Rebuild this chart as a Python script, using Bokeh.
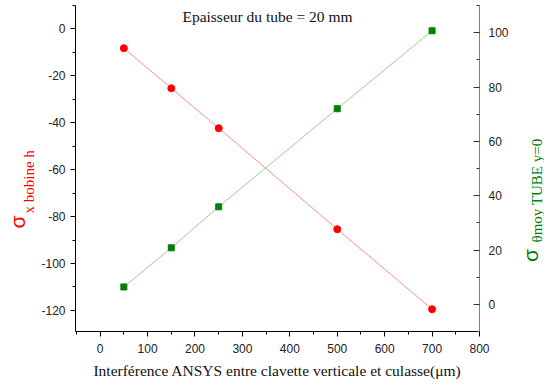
import math
from bokeh.plotting import figure
from bokeh.models import Range1d, LinearAxis, Label, FixedTicker, Title
from bokeh.embed import file_html
from bokeh.resources import INLINE

interference = [50, 150, 250, 500, 700]
sigma_x_bobine = [-8.2, -25.3, -42.3, -85.4, -119.5]
sigma_theta_tube = [6.4, 20.8, 35.9, 72.0, 100.7]

x_ticks = [0, 100, 200, 300, 400, 500, 600, 700, 800]
left_ticks = [0, -20, -40, -60, -80, -100, -120]
right_ticks = [0, 20, 40, 60, 80, 100]

title_text = "Epaisseur du tube = 20 mm"
x_label = "Interférence ANSYS entre clavette verticale et culasse(μm)"
left_symbol = "σ"
left_sub = "x bobine h"
right_symbol = "σ"
right_sub = "θmoy TUBE y=0"

RED = "#ff0000"
GREEN = "#008000"

p = figure(width=544, height=387, output_backend="svg", toolbar_location=None,
           x_range=Range1d(-52, 800), y_range=Range1d(-129, 10),
           min_border_left=75, min_border_right=65, min_border_top=5, min_border_bottom=56)
p.outline_line_color = None
p.grid.visible = False
p.background_fill_color = "white"
p.border_fill_color = "white"

p.extra_y_ranges = {"right": Range1d(-10, 110)}

# bottom axis
xa = p.xaxis[0]
xa.ticker = FixedTicker(ticks=x_ticks, minor_ticks=list(range(-50, 801, 50)))
xa.axis_label = x_label
xa.axis_label_text_font = "Liberation Serif"
xa.axis_label_text_font_size = "15.5px"
xa.axis_label_text_font_style = "normal"
xa.axis_label_text_color = "#111111"
xa.axis_label_standoff = 6
xa.major_label_text_font = "Liberation Sans"
xa.major_label_text_font_size = "12px"
xa.major_label_text_color = "#222222"
xa.major_label_standoff = 7
xa.major_tick_out = 5
xa.major_tick_in = 0
xa.minor_tick_out = 3
xa.minor_tick_in = 0
xa.axis_line_color = "black"

# left axis (plain hyphen minus as in the original)
ya = p.yaxis[0]
ya.ticker = FixedTicker(ticks=left_ticks, minor_ticks=list(range(-130, 11, 10)))
ya.major_label_overrides = {t: str(t) for t in left_ticks}
ya.major_label_text_font = "Liberation Sans"
ya.major_label_text_font_size = "12px"
ya.major_label_text_color = "#222222"
ya.major_label_standoff = 5
ya.major_tick_out = 5
ya.major_tick_in = 0
ya.minor_tick_out = 3
ya.minor_tick_in = 0
ya.axis_line_color = "black"

# right axis
ra = LinearAxis(y_range_name="right")
ra.ticker = FixedTicker(ticks=right_ticks, minor_ticks=list(range(-10, 111, 10)))
ra.major_label_text_font = "Liberation Sans"
ra.major_label_text_font_size = "12px"
ra.major_label_text_color = "#222222"
ra.major_label_standoff = 9
ra.major_tick_out = 0
ra.major_tick_in = 6
ra.minor_tick_out = 0
ra.minor_tick_in = 3
ra.axis_line_color = "#808080"
ra.major_tick_line_color = "#333333"
ra.minor_tick_line_color = "#333333"
p.add_layout(ra, "right")

# series
p.line(interference, sigma_x_bobine, line_color=RED, line_alpha=0.45, line_width=1)
p.scatter(interference, sigma_x_bobine, marker="circle", size=7, fill_color=RED, line_color=RED)
p.line(interference, sigma_theta_tube, line_color=GREEN, line_alpha=0.4, line_width=1, y_range_name="right")
p.scatter(interference, sigma_theta_tube, marker="square", size=6, fill_color=GREEN, line_color=GREEN,
          y_range_name="right")

# title inside the frame
p.add_layout(Label(x=192, y=315, x_units="screen", y_units="screen", text=title_text,
                   text_font="Liberation Serif", text_font_size="15.5px", text_color="#111111",
                   text_align="center", text_baseline="middle"))


def side_label(text, cx, y, font, size, color, align):
    # rotated label placed in a side panel (so it is not clipped to the frame),
    # horizontally positioned in canvas pixels
    try:
        return Label(x=cx, y=y, x_units="canvas", y_units="screen", text=text, angle=math.pi / 2,
                     text_font=font, text_font_size=size, text_color=color,
                     text_align=align, text_baseline="middle")
    except Exception:
        return Label(x=cx, y=y, x_units="screen", y_units="screen", text=text, angle=math.pi / 2,
                     text_font=font, text_font_size=size, text_color=color,
                     text_align=align, text_baseline="middle")


# left side panel: axis, subscript labels, then the big sigma as an outer title
p.add_layout(side_label(left_sub, 28.4, 118, "Liberation Serif", "15px", RED, "left"), "left")
p.add_layout(side_label(right_sub, 536.4, 89, "Liberation Serif", "15px", GREEN, "left"), "left")
p.add_layout(Title(text=left_symbol, align="left", offset=103, standoff=-44,
                   text_font="Liberation Sans", text_font_size="21px", text_font_style="normal",
                   text_color=RED), "left")

# right side panel: axis then the big sigma
p.add_layout(side_label(right_symbol, 530, 76, "Liberation Sans", "21px", GREEN, "center"), "right")

open("out.html", "w").write(file_html(p, INLINE))
